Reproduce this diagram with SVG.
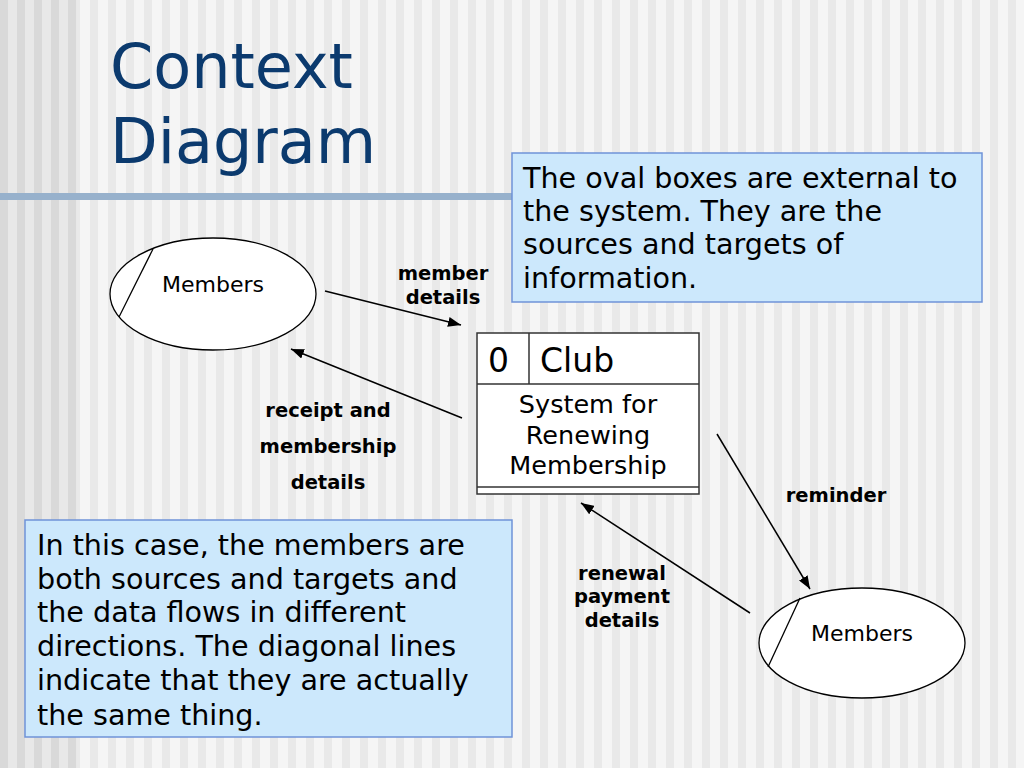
<svg xmlns="http://www.w3.org/2000/svg" width="1024" height="768" viewBox="0 0 1024 768">
<style>
  .title{font-family:"DejaVu Sans",Verdana,sans-serif;font-size:62px;fill:#0b3a6e}
  .note{font-family:"DejaVu Sans",Verdana,sans-serif;font-size:28.6px;fill:#000}
  .lbl{font-family:"DejaVu Sans",Verdana,sans-serif;font-size:19.5px;font-weight:bold;fill:#000;text-anchor:middle}
  .ent{font-family:"DejaVu Sans",Verdana,sans-serif;font-size:22px;fill:#000;text-anchor:middle}
  .proc{font-family:"DejaVu Sans",Verdana,sans-serif;font-size:25.5px;fill:#000;text-anchor:middle}
  .club{font-family:"DejaVu Sans",Verdana,sans-serif;font-size:33px;fill:#000}
  .shape{fill:#fff;stroke:#000;stroke-width:1.3}
  .box{fill:#cce8fc;stroke:#6f93d8;stroke-width:1.5}
  .flow{stroke:#000;stroke-width:1.5;fill:none;marker-end:url(#arr)}
</style>
<defs>
  <pattern id="stripesR" width="18" height="10" patternUnits="userSpaceOnUse">
    <rect width="18" height="10" fill="#f5f5f5"/>
    <rect x="0" width="8" height="10" fill="#e9e9e9"/>
  </pattern>
  <pattern id="stripesL" width="17" height="10" patternUnits="userSpaceOnUse">
    <rect width="17" height="10" fill="#e8e8e8"/>
    <rect x="0" width="8" height="10" fill="#d9d9d9"/>
  </pattern>
  <marker id="arr" viewBox="0 0 13 10" refX="13" refY="5" markerWidth="13" markerHeight="10" markerUnits="userSpaceOnUse" orient="auto">
    <path d="M0,0 L13,5 L0,10 Z" fill="#000"/>
  </marker>
</defs>
<rect width="1024" height="768" fill="url(#stripesR)"/>
<rect width="77" height="768" fill="url(#stripesL)"/>
<rect x="0" y="193" width="512" height="7" fill="#97b1cc"/>

<text class="title" x="110" y="88">Context</text>
<text class="title" x="110" y="163">Diagram</text>

<g id="note-top">
  <rect class="box" x="512" y="153" width="470" height="149"/>
  <text class="note" x="523" y="188">The oval boxes are external to</text>
  <text class="note" x="523" y="221">the system. They are the</text>
  <text class="note" x="523" y="254">sources and targets of</text>
  <text class="note" x="523" y="288">information.</text>
</g>

<g id="note-bottom">
  <rect class="box" x="25" y="520" width="487" height="217"/>
  <text class="note" x="37" y="555">In this case, the members are</text>
  <text class="note" x="37" y="589">both sources and targets and</text>
  <text class="note" x="37" y="622">the data flows in different</text>
  <text class="note" x="37" y="656">directions. The diagonal lines</text>
  <text class="note" x="37" y="690">indicate that they are actually</text>
  <text class="note" x="37" y="725">the same thing.</text>
</g>

<g id="members-top">
  <ellipse class="shape" cx="213" cy="294" rx="103" ry="56"/>
  <line x1="153" y1="249" x2="119" y2="317" stroke="#000" stroke-width="1.3"/>
  <text class="ent" x="213" y="292">Members</text>
</g>

<g id="members-bottom">
  <ellipse class="shape" cx="862" cy="643" rx="103" ry="55"/>
  <line x1="800" y1="598" x2="768" y2="667" stroke="#000" stroke-width="1.3"/>
  <text class="ent" x="862" y="641">Members</text>
</g>

<g id="process">
  <rect x="477" y="333" width="222" height="161" fill="#fff" stroke="#333" stroke-width="1.5"/>
  <line x1="477" y1="384" x2="699" y2="384" stroke="#333" stroke-width="1.5"/>
  <line x1="529" y1="333" x2="529" y2="384" stroke="#333" stroke-width="1.5"/>
  <line x1="477" y1="487" x2="699" y2="487" stroke="#333" stroke-width="1.5"/>
  <text class="club" x="488" y="372">0</text>
  <text class="club" x="540" y="372">Club</text>
  <text class="proc" x="588" y="413">System for</text>
  <text class="proc" x="588" y="444">Renewing</text>
  <text class="proc" x="588" y="474">Membership</text>
</g>

<g id="connectors">
  <line class="flow" x1="325" y1="291" x2="461" y2="325"/>
  <line class="flow" x1="462" y1="418" x2="291" y2="349"/>
  <line class="flow" x1="717" y1="434" x2="810" y2="589"/>
  <line class="flow" x1="750" y1="613" x2="581" y2="503"/>
  <text class="lbl" x="443" y="280">member</text>
  <text class="lbl" x="443" y="304">details</text>
  <text class="lbl" x="328" y="417">receipt and</text>
  <text class="lbl" x="328" y="453">membership</text>
  <text class="lbl" x="328" y="489">details</text>
  <text class="lbl" x="836" y="502">reminder</text>
  <text class="lbl" x="622" y="580">renewal</text>
  <text class="lbl" x="622" y="603">payment</text>
  <text class="lbl" x="622" y="627">details</text>
</g>
</svg>
